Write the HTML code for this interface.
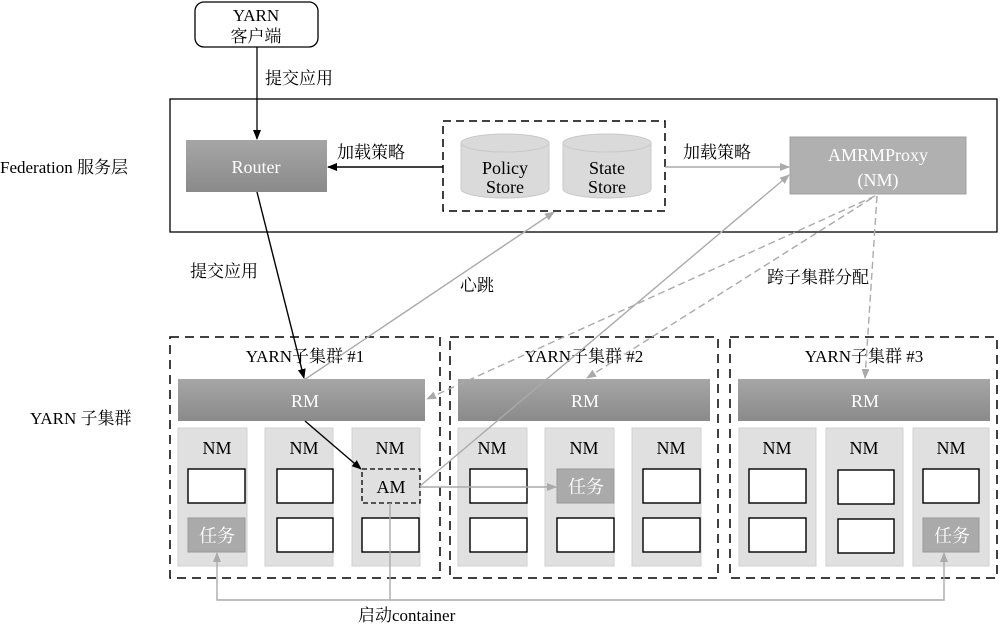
<!DOCTYPE html>
<html><head><meta charset="utf-8"><style>
html,body{margin:0;padding:0;background:#fff}
svg{display:block}
text{font-family:"Liberation Serif","Noto Serif CJK SC","Noto Sans CJK SC",serif}
</style></head><body>
<svg width="1000" height="628" viewBox="0 0 1000 628" xmlns="http://www.w3.org/2000/svg">
<defs>
<marker id="ab" markerWidth="10" markerHeight="8" refX="9" refY="4" orient="auto" markerUnits="userSpaceOnUse"><path d="M0,0 L10,4 L0,8 z" fill="#000"/></marker>
<marker id="ag" markerWidth="10" markerHeight="8" refX="9" refY="4" orient="auto" markerUnits="userSpaceOnUse"><path d="M0,0 L10,4 L0,8 z" fill="#aaa"/></marker>
<linearGradient id="gr" x1="0" y1="0" x2="0" y2="1"><stop offset="0" stop-color="#a6a6a6"/><stop offset="1" stop-color="#8a8a8a"/></linearGradient>
</defs>

<!-- client -->
<rect x="195" y="2" width="123" height="45" rx="9" fill="#fff" stroke="#000" stroke-width="1.3"/>
<text x="256" y="21" font-size="17" text-anchor="middle">YARN</text>
<text x="256" y="42" font-size="17" text-anchor="middle">客户端</text>
<line x1="257" y1="47" x2="257" y2="139" stroke="#000" stroke-width="1.3" marker-end="url(#ab)"/>
<text x="265" y="84" font-size="17">提交应用</text>

<!-- federation layer -->
<rect x="170" y="99" width="827" height="133" fill="none" stroke="#000" stroke-width="1.3"/>
<text x="0" y="173" font-size="17">Federation 服务层</text>

<rect x="186" y="140" width="141" height="52" fill="url(#gr)"/>
<text x="256" y="173" font-size="18" fill="#fff" text-anchor="middle">Router</text>

<rect x="443" y="121" width="222" height="90" fill="none" stroke="#000" stroke-width="1.5" stroke-dasharray="8,5"/>
<g fill="#dadada" stroke="#c8c8c8">
<path d="M461,143 L461,189 A44,9 0 0 0 549,189 L549,143"/>
<ellipse cx="505" cy="143" rx="44" ry="9"/>
<path d="M563,143 L563,189 A44,9 0 0 0 651,189 L651,143"/>
<ellipse cx="607" cy="143" rx="44" ry="9"/>
</g>
<text x="505" y="174" font-size="18" text-anchor="middle">Policy</text>
<text x="505" y="193" font-size="18" text-anchor="middle">Store</text>
<text x="607" y="174" font-size="18" text-anchor="middle">State</text>
<text x="607" y="193" font-size="18" text-anchor="middle">Store</text>

<line x1="443" y1="167" x2="328" y2="167" stroke="#000" stroke-width="1.6" marker-end="url(#ab)"/>
<text x="337" y="158" font-size="17">加载策略</text>
<line x1="665" y1="167" x2="789" y2="167" stroke="#aaa" stroke-width="1.5" marker-end="url(#ag)"/>
<text x="683" y="158" font-size="17">加载策略</text>

<rect x="790" y="137" width="176" height="57" fill="#b0b0b0" stroke="#a0a0a0"/>
<text x="878" y="161" font-size="18" fill="#fff" text-anchor="middle">AMRMProxy</text>
<text x="878" y="186" font-size="18" fill="#fff" text-anchor="middle">(NM)</text>

<text x="30" y="424" font-size="17">YARN 子集群</text>
<text x="190" y="277" font-size="17">提交应用</text>
<text x="460" y="291" font-size="17">心跳</text>
<text x="767" y="283" font-size="17">跨子集群分配</text>

<!-- clusters -->
<g fill="none" stroke="#000" stroke-width="1.5" stroke-dasharray="9,6">
<rect x="170" y="337" width="270" height="241"/>
<rect x="450" y="337" width="268" height="241"/>
<rect x="730" y="337" width="267" height="241"/>
</g>
<g font-size="17" text-anchor="middle">
<text x="305" y="362">YARN子集群 #1</text>
<text x="584" y="362">YARN子集群 #2</text>
<text x="864" y="362">YARN子集群 #3</text>
</g>
<g fill="url(#gr)">
<rect x="178" y="379" width="247" height="42"/>
<rect x="458" y="379" width="252" height="42"/>
<rect x="738" y="379" width="252" height="42"/>
</g>
<g font-size="18" fill="#fff" text-anchor="middle">
<text x="305" y="407">RM</text><text x="585" y="407">RM</text><text x="865" y="407">RM</text>
</g>

<g fill="#e0e0e0" stroke="#d0d0d0">
<rect x="178" y="428" width="69" height="138"/><rect x="265" y="428" width="68" height="138"/><rect x="352" y="428" width="68" height="138"/>
<rect x="458" y="428" width="69" height="138"/><rect x="545" y="428" width="69" height="138"/><rect x="632" y="428" width="69" height="138"/>
<rect x="739" y="428" width="77" height="138"/><rect x="826" y="428" width="77" height="138"/><rect x="913" y="428" width="76" height="138"/>
</g>
<g font-size="18" text-anchor="middle">
<text x="217" y="454">NM</text><text x="304" y="454">NM</text><text x="390" y="454">NM</text>
<text x="492" y="454">NM</text><text x="584" y="454">NM</text><text x="671" y="454">NM</text>
<text x="777" y="454">NM</text><text x="864" y="454">NM</text><text x="951" y="454">NM</text>
</g>
<g fill="#fff" stroke="#000" stroke-width="1.4">
<rect x="188" y="469" width="57" height="34"/>
<rect x="277" y="469" width="56" height="34"/><rect x="277" y="518" width="56" height="34"/>
<rect x="362" y="518" width="57" height="34"/>
<rect x="470" y="469" width="57" height="34"/><rect x="470" y="518" width="57" height="34"/>
<rect x="557" y="518" width="57" height="34"/>
<rect x="643" y="469" width="57" height="34"/><rect x="643" y="518" width="57" height="34"/>
<rect x="749" y="469" width="57" height="34"/><rect x="749" y="518" width="57" height="34"/>
<rect x="838" y="470" width="56" height="34"/><rect x="838" y="519" width="56" height="34"/>
<rect x="923" y="469" width="56" height="34"/>
</g>
<g fill="#aaa" stroke="#999">
<rect x="188" y="518" width="57" height="34"/>
<rect x="557" y="469" width="57" height="34"/>
<rect x="923" y="518" width="56" height="34"/>
</g>
<g font-size="18" fill="#fff" text-anchor="middle">
<text x="217" y="542">任务</text><text x="586" y="493">任务</text><text x="952" y="542">任务</text>
</g>
<rect x="362" y="469" width="58" height="34" fill="#e0e0e0" stroke="#000" stroke-width="1.3" stroke-dasharray="5,3"/>
<text x="391" y="493" font-size="18" text-anchor="middle">AM</text>

<!-- connectors -->
<line x1="257" y1="192" x2="304" y2="378" stroke="#000" stroke-width="1.4" marker-end="url(#ab)"/>
<line x1="304" y1="380" x2="554" y2="212" stroke="#aaa" stroke-width="1.4" marker-end="url(#ag)"/>
<line x1="305" y1="421" x2="361" y2="469" stroke="#000" stroke-width="1.4" marker-end="url(#ab)"/>
<line x1="420" y1="486" x2="789" y2="175" stroke="#aaa" stroke-width="1.4" marker-end="url(#ag)"/>
<line x1="420" y1="487" x2="556" y2="487" stroke="#aaa" stroke-width="1.4" marker-end="url(#ag)"/>
<g stroke="#aaa" stroke-width="1.4" stroke-dasharray="7,4" fill="none">
<line x1="875" y1="196" x2="427" y2="399" marker-end="url(#ag)"/>
<line x1="872" y1="198" x2="587" y2="378" marker-end="url(#ag)"/>
<line x1="877" y1="196" x2="865" y2="378" marker-end="url(#ag)"/>
</g>
<polyline points="390,503 390,600 217,600 217,553" fill="none" stroke="#aaa" stroke-width="1.4" marker-end="url(#ag)"/>
<polyline points="390,600 944,600 944,553" fill="none" stroke="#aaa" stroke-width="1.4" marker-end="url(#ag)"/>
<text x="358" y="621" font-size="17">启动container</text>
</svg>
</body></html>
